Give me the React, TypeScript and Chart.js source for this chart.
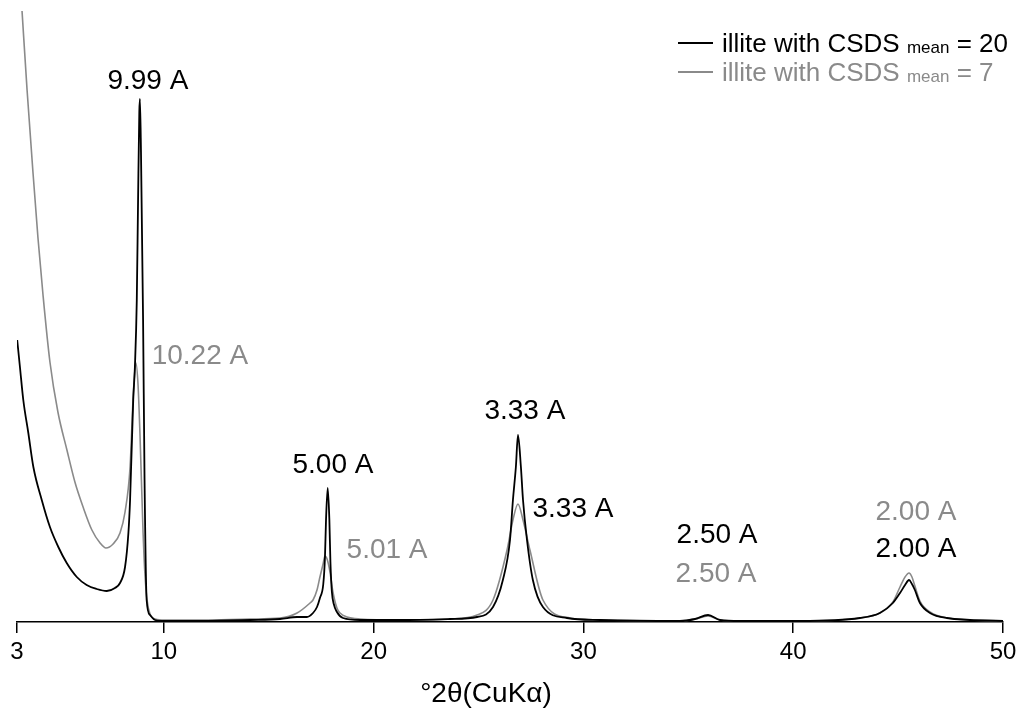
import React, { useEffect, useRef } from "react";
import { Chart, registerables } from "chart.js";

Chart.register(...registerables);

const FONT = '"Liberation Sans", Arial, Helvetica, sans-serif';
const BLACK = "#000000";
const GRAY = "#8a8a8a";

// x-axis tick labels (°2θ)
const xTicks = [3, 10, 20, 30, 40, 50];

// illite with CSDS mean = 20 (black)
const blackX = [3.01, 3.14, 3.30, 3.54, 3.78, 4.18, 4.57, 4.97, 5.37, 5.85, 6.32, 6.80, 7.28, 7.67, 7.91, 8.15, 8.31, 8.39, 8.54, 8.62, 8.71, 8.77, 8.83, 8.86, 8.91, 9.01, 9.08, 9.18, 9.34, 9.58, 10.05, 11.72, 14.11, 15.54, 16.35, 16.82, 17.11, 17.30, 17.44, 17.60, 17.68, 17.73, 17.81, 17.89, 17.94, 18.01, 18.10, 18.25, 18.54, 19.35, 21.26, 23.64, 24.93, 25.69, 26.16, 26.50, 26.64, 26.78, 26.88, 27.02, 27.12, 27.31, 27.59, 28.07, 29.22, 30.79, 34.60, 35.32, 35.94, 36.51, 37.46, 40.32, 43.18, 44.13, 44.75, 45.09, 45.33, 45.52, 45.66, 45.80, 46.04, 46.52, 47.33, 50.00];
const blackY = [282, 255, 222, 189, 155, 122, 95, 75, 59, 45, 37, 33, 31, 34, 39, 55, 89, 122, 222, 255, 322, 420, 510, 523, 470, 302, 142, 22, 7, 2, 1, 1, 2, 3, 5, 5, 9, 15, 24, 38, 65, 102, 134, 102, 60, 30, 18, 10, 4, 2, 2, 3, 5, 15, 42, 82, 122, 155, 187, 155, 122, 82, 42, 15, 4, 2, 1, 3, 7, 2, 1, 1, 4, 9, 19, 29, 37, 42, 38, 32, 19, 9, 4, 1];

// illite with CSDS mean = 7 (gray)
const grayX = [3.24, 3.48, 3.76, 4.00, 4.24, 4.57, 4.95, 5.38, 5.76, 6.15, 6.57, 6.96, 7.24, 7.58, 7.91, 8.15, 8.39, 8.53, 8.62, 8.67, 8.77, 8.86, 9.01, 9.10, 9.20, 9.34, 9.58, 10.05, 11.72, 14.11, 15.54, 16.35, 16.97, 17.11, 17.30, 17.44, 17.59, 17.68, 17.78, 17.92, 18.06, 18.25, 18.40, 18.73, 19.35, 21.26, 23.64, 24.93, 25.69, 26.36, 26.64, 26.88, 27.12, 27.45, 28.07, 29.36, 30.79, 34.60, 35.32, 35.94, 36.51, 37.46, 40.32, 43.18, 44.13, 44.75, 45.09, 45.33, 45.52, 45.66, 45.80, 46.04, 46.52, 47.33, 50.00];
const grayY = [611, 532, 450, 384, 327, 260, 210, 172, 140, 115, 92, 79, 74, 78, 89, 110, 155, 222, 252, 259, 237, 189, 89, 47, 22, 8, 3, 2, 2, 3, 4, 9, 19, 22, 32, 45, 58, 66, 63, 50, 30, 14, 9, 5, 3, 2, 3, 7, 22, 72, 102, 118, 102, 72, 22, 4, 2, 1, 3, 6, 2, 1, 1, 4, 9, 20, 35, 45, 49, 45, 36, 21, 10, 4, 1];

// peak annotations (d-spacings)
const annTexts = ["9.99 A", "10.22 A", "5.00 A", "5.01 A", "3.33 A", "3.33 A", "2.50 A", "2.50 A", "2.00 A", "2.00 A"];
const annX = [9.24, 11.72, 18.06, 20.64, 27.21, 29.5, 36.37, 36.32, 45.85, 45.85];
const annY = [543, 268, 159, 74, 213, 115, 89, 50, 112, 75];
const annIsGray = [false, true, false, true, false, false, false, true, true, false];

const legendLabels = ["illite with CSDS ", "illite with CSDS "];
const legendSub = ["mean", "mean"];
const legendValues = [" = 20", " = 7"];

const axisTitle = "°2θ(CuKα)";
const yMax = 622;

const toPoints = (xs: number[], ys: number[]) => xs.map((x, i) => ({ x, y: ys[i] }));

const overlayPlugin = {
  id: "overlay",
  afterDatasetsDraw(chart: any) {
    const ctx = chart.ctx as CanvasRenderingContext2D;
    const xs = chart.scales.x;
    const ys = chart.scales.y;
    ctx.save();
    // annotations
    ctx.font = `28px ${FONT}`;
    ctx.textAlign = "center";
    ctx.textBaseline = "alphabetic";
    annTexts.forEach((t, i) => {
      ctx.fillStyle = annIsGray[i] ? GRAY : BLACK;
      ctx.fillText(t, xs.getPixelForValue(annX[i]), ys.getPixelForValue(annY[i]) + 10);
    });
    // legend
    const rows = [
      { y: 43, color: BLACK },
      { y: 72, color: GRAY },
    ];
    rows.forEach((r, i) => {
      ctx.strokeStyle = r.color;
      ctx.lineWidth = 2;
      ctx.beginPath();
      ctx.moveTo(678, r.y);
      ctx.lineTo(713, r.y);
      ctx.stroke();
      ctx.fillStyle = r.color;
      ctx.textAlign = "left";
      let x = 722;
      const base = r.y + 9;
      ctx.font = `26px ${FONT}`;
      ctx.fillText(legendLabels[i], x, base);
      x += ctx.measureText(legendLabels[i]).width;
      ctx.font = `17px ${FONT}`;
      ctx.fillText(legendSub[i], x, base + 1);
      x += ctx.measureText(legendSub[i]).width;
      ctx.font = `26px ${FONT}`;
      ctx.fillText(legendValues[i], x, base);
    });
    // axis title
    ctx.fillStyle = BLACK;
    ctx.font = `28px ${FONT}`;
    ctx.textAlign = "center";
    ctx.fillText(axisTitle, chart.chartArea.left + 469, 702);
    ctx.restore();
  },
};

export default function App() {
  const ref = useRef<HTMLCanvasElement>(null);
  useEffect(() => {
    const chart = new Chart(ref.current as HTMLCanvasElement, {
      type: "line",
      data: {
        datasets: [
          {
            label: "illite with CSDS mean = 20",
            data: toPoints(blackX, blackY),
            borderColor: BLACK,
            borderWidth: 1.8,
            pointRadius: 0,
            cubicInterpolationMode: "monotone",
            fill: false,
          },
          {
            label: "illite with CSDS mean = 7",
            data: toPoints(grayX, grayY),
            borderColor: GRAY,
            borderWidth: 1.6,
            pointRadius: 0,
            cubicInterpolationMode: "monotone",
            fill: false,
          },
        ],
      },
      options: {
        responsive: false,
        animation: false,
        devicePixelRatio: 1,
        layout: { padding: { left: 17, right: 23, top: 0, bottom: 0 } },
        plugins: { legend: { display: false }, tooltip: { enabled: false } },
        scales: {
          x: {
            type: "linear",
            min: 3,
            max: 50,
            afterBuildTicks: (s: any) => {
              s.ticks = xTicks.map((v) => ({ value: v }));
            },
            afterFit: (s: any) => {
              s.height = 89;
            },
            grid: {
              display: true,
              drawOnChartArea: false,
              drawTicks: true,
              tickLength: 11,
              color: BLACK,
              lineWidth: 1.5,
            },
            border: { display: true, color: BLACK, width: 1.5 },
            ticks: {
              autoSkip: false,
              maxRotation: 0,
              padding: 5,
              color: BLACK,
              font: { size: 24, family: FONT },
            },
          },
          y: { display: false, min: 0, max: yMax },
        },
      },
      plugins: [overlayPlugin],
    } as any);
    return () => chart.destroy();
  }, []);
  return (
    <div style={{ position: "absolute", left: 0, top: 0, width: 1026, height: 711 }}>
      <canvas ref={ref} width={1026} height={711} style={{ display: "block" }} />
    </div>
  );
}
